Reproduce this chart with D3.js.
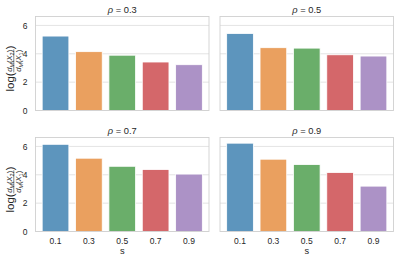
<!DOCTYPE html>
<html lang="en">
<head>
<meta charset="UTF-8">
<title>rho panels</title>
<script src="https://d3js.org/d3.v7.min.js"></script>
<style>
  body { margin: 0; background: #fff; }
  svg { font-family: "Liberation Sans", Arial, sans-serif; }
  .tick text { fill: #262626; font-size: 8.5px; font-family: "Liberation Sans", Arial, sans-serif; }
</style>
</head>
<body>
<svg id="chart" width="399" height="263"></svg>
<script>
// data
const sValues = ["0.1", "0.3", "0.5", "0.7", "0.9"];
const rhoValues = ["0.3", "0.5", "0.7", "0.9"];
const rho03 = [5.25, 4.15, 3.9, 3.42, 3.23];
const rho05 = [5.43, 4.43, 4.4, 3.93, 3.84];
const rho07 = [6.15, 5.17, 4.6, 4.37, 4.05];
const rho09 = [6.23, 5.1, 4.72, 4.16, 3.2];
const yTicks = [0, 2, 4, 6];

const panelsData = [rho03, rho05, rho07, rho09];
const colors = ["#5d95bd", "#eaa05f", "#6aae6a", "#d4676a", "#ac92c6"];

const svg = d3.select("#chart");

// panel boxes (left, top)
const pw = 173.5, ph = 94;
const boxes = [
  { x: 35.5, y: 16.5 }, { x: 220, y: 16.5 },
  { x: 35.5, y: 137.5 }, { x: 220, y: 137.5 }
];

const x = d3.scaleBand().domain(sValues).range([0, pw]).padding(0.2);
const y = d3.scaleLinear().domain([0, 6.63]).range([ph, 0]);

// helper: d_M(X_k) in small text
function dTerm(sel, k) {
  sel.append("tspan").attr("font-style", "italic").text("d");
  sel.append("tspan").attr("font-size", 5.5).attr("dy", 1.5).attr("font-style", "italic").text("M");
  sel.append("tspan").attr("dy", -1.5).text("(");
  sel.append("tspan").attr("font-style", "italic").text("X");
  sel.append("tspan").attr("font-size", 5.5).attr("dy", 1.5).text(k);
  sel.append("tspan").attr("dy", -1.5).text(")");
}

panelsData.forEach((vals, i) => {
  const b = boxes[i];
  const g = svg.append("g").attr("transform", `translate(${b.x},${b.y})`);

  // grid
  g.selectAll(".grid").data(yTicks).enter().append("line")
    .attr("x1", 0).attr("x2", pw)
    .attr("y1", d => y(d)).attr("y2", d => y(d))
    .attr("stroke", "#dcdcdc").attr("stroke-width", 0.8);

  g.selectAll(".bar").data(vals).enter().append("rect")
    .attr("x", (d, j) => x(sValues[j]))
    .attr("y", d => y(d))
    .attr("width", x.bandwidth())
    .attr("height", d => y(0) - y(d))
    .attr("fill", (d, j) => colors[j])
    .attr("stroke", "#fff").attr("stroke-width", 0.8);

  // frame
  g.append("rect").attr("width", pw).attr("height", ph)
    .attr("fill", "none").attr("stroke", "#d0d0d0").attr("stroke-width", 0.9);

  // title
  const t = g.append("text").attr("x", pw / 2).attr("y", -3.5)
    .attr("text-anchor", "middle").attr("font-size", 9.3).attr("fill", "#262626");
  t.append("tspan").attr("font-style", "italic").text("ρ");
  t.append("tspan").text(" = " + rhoValues[i]);

  // y axis on left column
  if (i % 2 === 0) {
    const ya = g.append("g").call(d3.axisLeft(y).tickValues(yTicks).tickFormat(d3.format("d"))
      .tickSize(0).tickPadding(8));
    ya.select(".domain").remove();

    // y label: log( fraction )
    const lab = svg.append("g")
      .attr("transform", `translate(14,${b.y + ph / 2 + 5}) rotate(-90)`)
      .attr("fill", "#262626");
    const logT = lab.append("text").attr("font-size", 11.5).text("log(");
    const num = lab.append("text").attr("y", -1.8).attr("font-size", 7.6).attr("text-anchor", "middle");
    dTerm(num, "2");
    const den = lab.append("text").attr("y", 7.2).attr("font-size", 7.6).attr("text-anchor", "middle");
    dTerm(den, "1");
    const close = lab.append("text").attr("font-size", 11.5).text(")");

    const wLog = logT.node().getComputedTextLength();
    const wFrac = Math.max(num.node().getComputedTextLength(), den.node().getComputedTextLength()) + 1;
    const wClose = close.node().getComputedTextLength();
    const total = wLog + wFrac + wClose;
    const x0 = -total / 2;
    logT.attr("x", x0);
    num.attr("x", x0 + wLog + wFrac / 2);
    den.attr("x", x0 + wLog + wFrac / 2);
    lab.append("line")
      .attr("x1", x0 + wLog).attr("x2", x0 + wLog + wFrac)
      .attr("y1", -0.2).attr("y2", -0.2)
      .attr("stroke", "#262626").attr("stroke-width", 0.55);
    close.attr("x", x0 + wLog + wFrac);
  }

  // x axis on bottom row
  if (i >= 2) {
    const xa = g.append("g").attr("transform", `translate(0,${ph})`)
      .call(d3.axisBottom(x).tickSize(0).tickPadding(6.5));
    xa.select(".domain").remove();
    g.append("text").attr("x", pw / 2).attr("y", ph + 22)
      .attr("text-anchor", "middle").attr("font-size", 9.3).attr("fill", "#262626").text("s");
  }
});
</script>
</body>
</html>
